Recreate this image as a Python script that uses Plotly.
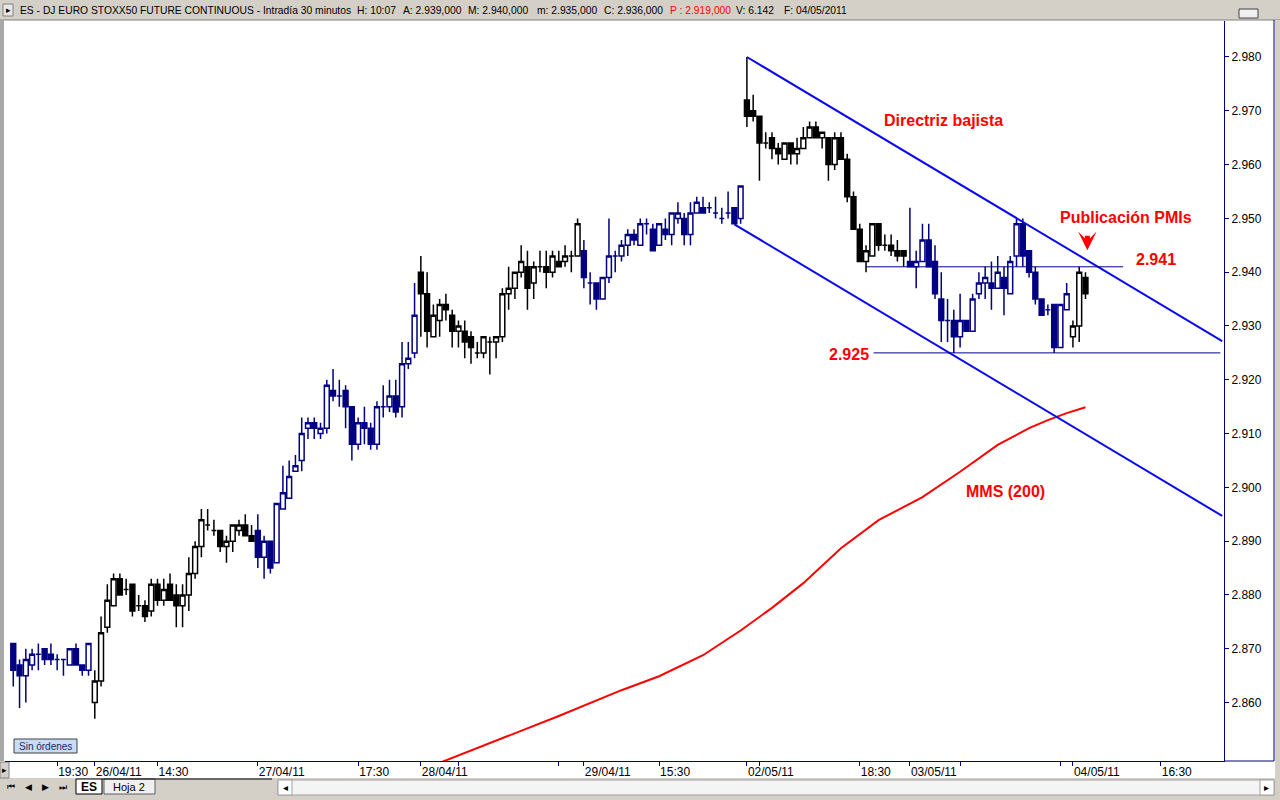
import plotly.graph_objects as go

# ---------------- data (index points, 30-min bars) ----------------
opens = [2871, 2867, 2865, 2867, 2869, 2870, 2869, 2868, 2868, 2867, 2870, 2867, 2866,
         2860, 2864, 2874, 2878, 2883, 2881, 2882, 2878, 2878, 2877, 2882, 2879, 2882, 2880, 2878, 2880,
         2884, 2889, 2893, 2892, 2892, 2889, 2890, 2892, 2893, 2891,
         2892, 2887, 2890, 2886, 2896, 2898, 2903, 2905, 2911, 2912, 2910, 2911, 2918, 2917, 2918, 2915,
         2908, 2912, 2911, 2908, 2915, 2915, 2917, 2915, 2923, 2925,
         2940, 2936, 2928, 2931, 2934, 2932, 2929, 2929, 2928, 2925, 2925, 2927, 2927, 2928, 2936, 2937,
         2940, 2941, 2938, 2941, 2941, 2940, 2942, 2942, 2943, 2943,
         2944, 2938, 2938, 2935, 2939, 2943, 2943, 2945, 2947, 2945, 2949, 2948, 2945, 2948, 2947, 2950,
         2950, 2947, 2951, 2952, 2952, 2951, 2950, 2951, 2952, 2950,
         2972, 2970, 2969, 2964, 2965, 2963, 2961, 2964, 2962, 2963, 2965, 2967, 2965, 2965, 2960, 2965,
         2961, 2954, 2948, 2942, 2943, 2949, 2945, 2945, 2944, 2944,
         2942, 2941, 2942, 2946, 2942, 2935, 2931, 2931, 2928, 2931, 2929, 2936, 2938, 2938, 2937, 2939,
         2936, 2943, 2949, 2944, 2940, 2935, 2933, 2934, 2926, 2933,
         2928, 2930, 2939]
highs = [2871, 2868, 2870, 2870, 2871, 2870, 2871, 2869, 2868, 2870, 2871, 2867, 2871,
         2866, 2876, 2882, 2884, 2884, 2883, 2882, 2880, 2879, 2883, 2883, 2883, 2884, 2882, 2882, 2887,
         2890, 2896, 2896, 2894, 2892, 2891, 2893, 2894, 2895, 2893,
         2895, 2891, 2890, 2897, 2904, 2905, 2906, 2913, 2913, 2913, 2912, 2920, 2922, 2920, 2919, 2915,
         2913, 2915, 2912, 2916, 2919, 2920, 2920, 2927, 2927, 2938,
         2943, 2940, 2934, 2935, 2936, 2933, 2931, 2931, 2929, 2927, 2928, 2928, 2928, 2937, 2941, 2940,
         2945, 2944, 2942, 2944, 2944, 2944, 2944, 2945, 2944, 2950,
         2946, 2940, 2938, 2939, 2950, 2944, 2946, 2948, 2948, 2950, 2950, 2949, 2949, 2950, 2951, 2953,
         2951, 2953, 2954, 2954, 2953, 2954, 2952, 2955, 2952, 2956,
         2980, 2973, 2969, 2966, 2966, 2964, 2964, 2964, 2965, 2967, 2968, 2968, 2966, 2965, 2966, 2966,
         2962, 2955, 2949, 2945, 2949, 2949, 2947, 2947, 2946, 2944,
         2952, 2944, 2949, 2949, 2945, 2940, 2935, 2933, 2936, 2931, 2936, 2940, 2941, 2942, 2943, 2941,
         2943, 2950, 2950, 2944, 2941, 2935, 2934, 2934, 2934, 2938,
         2931, 2941, 2940]
lows = [2863, 2859, 2860, 2866, 2866, 2867, 2867, 2866, 2865, 2867, 2867, 2865, 2865,
        2857, 2863, 2873, 2878, 2880, 2880, 2876, 2877, 2875, 2876, 2878, 2878, 2879, 2874, 2874, 2877,
        2883, 2887, 2892, 2891, 2888, 2886, 2888, 2891, 2891, 2890,
        2885, 2883, 2884, 2886, 2896, 2898, 2903, 2903, 2909, 2909, 2909, 2910, 2916, 2915, 2911, 2905,
        2907, 2908, 2907, 2907, 2913, 2914, 2913, 2913, 2922, 2924,
        2928, 2926, 2928, 2928, 2931, 2926, 2926, 2924, 2923, 2924, 2924, 2921, 2924, 2927, 2933, 2935,
        2939, 2933, 2935, 2940, 2937, 2939, 2941, 2941, 2940, 2943,
        2937, 2934, 2933, 2935, 2938, 2940, 2942, 2943, 2945, 2945, 2947, 2944, 2945, 2946, 2945, 2949,
        2945, 2945, 2951, 2951, 2951, 2950, 2949, 2950, 2949, 2949,
        2967, 2968, 2957, 2963, 2961, 2960, 2961, 2960, 2960, 2963, 2965, 2965, 2963, 2957, 2959, 2961,
        2953, 2948, 2942, 2940, 2943, 2944, 2944, 2943, 2942, 2941,
        2941, 2937, 2942, 2941, 2935, 2927, 2927, 2925, 2926, 2929, 2929, 2935, 2935, 2933, 2937, 2932,
        2936, 2941, 2941, 2939, 2934, 2932, 2932, 2925, 2926, 2933,
        2926, 2927, 2935]
closes = [2866, 2865, 2868, 2869, 2869, 2868, 2868, 2868, 2868, 2870, 2867, 2866, 2871,
          2864, 2873, 2879, 2883, 2880, 2881, 2877, 2878, 2876, 2882, 2879, 2881, 2879, 2878, 2880, 2884,
          2889, 2894, 2893, 2892, 2889, 2890, 2893, 2893, 2891, 2890,
          2887, 2890, 2885, 2897, 2899, 2902, 2904, 2910, 2912, 2911, 2911, 2919, 2917, 2917, 2915, 2908,
          2912, 2911, 2908, 2915, 2915, 2917, 2914, 2923, 2924, 2932,
          2936, 2929, 2932, 2934, 2933, 2929, 2930, 2927, 2926, 2925, 2928, 2927, 2928, 2936, 2937, 2940,
          2942, 2937, 2941, 2941, 2940, 2943, 2941, 2943, 2943, 2949,
          2939, 2938, 2935, 2939, 2943, 2943, 2945, 2947, 2946, 2949, 2949, 2944, 2949, 2947, 2951, 2951,
          2947, 2951, 2953, 2951, 2952, 2951, 2950, 2951, 2949, 2956,
          2969, 2969, 2964, 2964, 2963, 2962, 2964, 2962, 2963, 2965, 2967, 2965, 2966, 2960, 2965, 2961,
          2954, 2948, 2942, 2944, 2949, 2945, 2945, 2944, 2943, 2943,
          2941, 2942, 2946, 2941, 2936, 2931, 2931, 2928, 2931, 2929, 2935, 2938, 2939, 2937, 2940, 2937,
          2942, 2949, 2943, 2940, 2935, 2932, 2933, 2926, 2934, 2936,
          2930, 2940, 2936]

# first bar index of each trading session and its candle colour
session_starts = [0, 13, 39, 65, 91, 117, 143, 169]
session_colors = ["#000080", "#000000", "#000080", "#000000",
                  "#000080", "#000000", "#000080", "#000000"]

# 200-period moving average
ma_idx = [68, 78, 87, 97, 103, 110, 116, 121, 126, 132, 138, 145, 151, 157, 162, 165, 168, 171]
ma_val = [2848.8, 2853.4, 2857.5, 2862.3, 2864.9, 2868.8, 2873.4, 2877.6, 2882.2, 2888.7,
          2893.9, 2898.2, 2902.9, 2907.9, 2911.0, 2912.5, 2913.8, 2914.9]

# drawn lines
upper_trend_x = [117, 192.8]
upper_trend_y = [2980.0, 2927.2]
lower_trend_x = [115, 192.8]
lower_trend_y = [2948.9, 2894.7]
res_x = [136, 177]
res_y = [2941, 2941]
sup_x = [137.2, 192.5]
sup_y = [2925, 2925]

y_ticks = [2860, 2870, 2880, 2890, 2900, 2910, 2920, 2930, 2940, 2950, 2960, 2970, 2980]
x_tick_idx = [7, 13, 23, 39, 55, 65, 71, 87, 91, 103, 117, 119, 135, 143, 151, 167, 169, 183]
x_tick_text = ["19:30", "26/04/11", "14:30", "27/04/11", "17:30", "28/04/11", "", "",
               "29/04/11", "15:30", "02/05/11", "", "18:30", "03/05/11", "", "", "04/05/11", "16:30"]

# ---------------- figure ----------------
W, H = 1280, 800
L, R, T, B = 5, 56, 21, 39
PW, PH = W - L - R, H - T - B


def xp(px):
    return (px - L) / PW


def yp(py):
    return (H - B - py) / PH


fig = go.Figure()

n = len(opens)
bar_color = []
for i in range(n):
    k = max(j for j, s in enumerate(session_starts) if s <= i)
    bar_color.append(session_colors[k])

for col in ["#000080", "#000000"]:
    idx = [i for i in range(n) if bar_color[i] == col]
    fig.add_trace(go.Candlestick(
        x=idx,
        open=[opens[i] for i in idx], high=[highs[i] for i in idx],
        low=[lows[i] for i in idx], close=[closes[i] for i in idx],
        increasing=dict(line=dict(color=col, width=1.5), fillcolor="#ffffff"),
        decreasing=dict(line=dict(color=col, width=1.5), fillcolor=col),
        whiskerwidth=0, hoverinfo="skip", showlegend=False))

fig.add_trace(go.Scatter(x=ma_idx, y=ma_val, mode="lines",
                         line=dict(color="#ff0000", width=2), hoverinfo="skip", showlegend=False))
for xs, ys, c, w in [(upper_trend_x, upper_trend_y, "#0a0af0", 2),
                     (lower_trend_x, lower_trend_y, "#0a0af0", 2),
                     (res_x, res_y, "#00008b", 1),
                     (sup_x, sup_y, "#00008b", 1)]:
    fig.add_trace(go.Scatter(x=xs, y=ys, mode="lines", line=dict(color=c, width=w),
                             hoverinfo="skip", showlegend=False))

FONT = "Liberation Sans, Arial, sans-serif"
ax_font = dict(family=FONT, size=12, color="#000000")

fig.update_layout(
    width=W, height=H,
    margin=dict(l=L, r=R, t=T, b=B, pad=0),
    paper_bgcolor="#ffffff", plot_bgcolor="#ffffff",
    boxgap=0.12, boxgroupgap=0.12,
    showlegend=False,
    xaxis=dict(range=[-1.32, 193.09], showgrid=False, zeroline=False,
               showline=True, linecolor="#000080", linewidth=1,
               ticks="outside", ticklen=4, tickcolor="#000080",
               tickvals=x_tick_idx, ticktext=x_tick_text, tickangle=0,
               ticklabelposition="outside right", tickfont=ax_font,
               rangeslider=dict(visible=False), fixedrange=True),
    yaxis=dict(range=[2849.14, 2986.69], side="right", showgrid=False, zeroline=False,
               showline=True, linecolor="#000080", linewidth=1,
               ticks="outside", ticklen=4, tickcolor="#000080",
               tickvals=y_ticks, ticktext=[f"{v / 1000:.3f}" for v in y_ticks],
               tickfont=ax_font, fixedrange=True),
)

GRAY = "#d4d0c8"


def prect(x0, x1, y0, y1, fill, line_color=None, lw=1):
    return dict(type="rect", xref="paper", yref="paper", x0=xp(x0), x1=xp(x1), y0=yp(y1), y1=yp(y0),
                fillcolor=fill, line=dict(color=line_color or fill, width=lw if line_color else 0),
                layer="below")


def pline(x0, x1, y0, y1, color, lw=1):
    return dict(type="line", xref="paper", yref="paper", x0=xp(x0), x1=xp(x1), y0=yp(y0), y1=yp(y1),
                line=dict(color=color, width=lw), layer="below")


shapes = [
    prect(0, W, 0, 20, GRAY),
    pline(0, W, 20, 20, "#808080"),
    prect(0, 4, 20, 761, "#a8a8a8"),
    prect(1275, W, 20, 800, GRAY),
    pline(1274, 1274, 20, 761, "#000080"),
    pline(1224, 1274, 761, 761, "#000080"),
    prect(0, W, 778, 800, GRAY),
    prect(0, 9, 762, 778, GRAY, "#808080"),
    prect(3, 13, 4, 16, "#e8e8e8", "#808080"),
    prect(1239, 1258, 9, 18, "#f0f0f0", "#404040"),
    prect(14, 77, 739, 753, "#c8dcf4", "#404040"),
    prect(76, 102, 779, 794, "#ffffff", "#000000"),
    prect(104, 155, 779, 794, "#f0f0f0", "#606060"),
    pline(102, 272, 779, 779, "#000000"),
    prect(278, 1274, 780, 795, "#f4f4f4", "#a0a0a0"),
    prect(278, 292, 780, 795, "#ffffff", "#a0a0a0"),
    prect(1260, 1274, 780, 795, "#ffffff", "#a0a0a0"),
]
fig.update_layout(shapes=shapes)

RED = "#ff0000"
red_font = dict(family=FONT, size=16, color=RED)

ann = [
    dict(x=148.3, y=2968.2, text="<b>Directriz bajista</b>", font=red_font, showarrow=False),
    dict(x=177.4, y=2950.2, text="<b>Publicación PMIs</b>", font=red_font, showarrow=False),
    dict(x=182.2, y=2942.4, text="<b>2.941</b>", font=red_font, showarrow=False),
    dict(x=133.3, y=2924.7, text="<b>2.925</b>", font=red_font, showarrow=False),
    dict(x=158.3, y=2899.2, text="<b>MMS (200)</b>", font=red_font, showarrow=False),
    dict(x=171.3, y=2944.1, ax=0, ay=-16, text="", showarrow=True, arrowhead=3,
         arrowsize=0.62, arrowwidth=5, arrowcolor=RED, standoff=0),
]


def ptext(px, py, text, size=10, color="#000000", anchor="center", family=FONT):
    return dict(xref="paper", yref="paper", x=xp(px), y=yp(py), xanchor=anchor, yanchor="middle",
                text=text, showarrow=False, font=dict(family=family, size=size, color=color))


hdr = [
    (18, "ES - DJ EURO STOXX50 FUTURE CONTINUOUS - Intradía 30 minutos", "#000000"),
    (355, "H: 10:07", "#000000"),
    (401, "A: 2.939,000", "#000000"),
    (466, "M: 2.940,000", "#000000"),
    (535, "m: 2.935,000", "#000000"),
    (602, "C: 2.936,000", "#000000"),
    (668, "P : 2.919,000", RED),
    (734, "V: 6.142", "#000000"),
    (782, "F: 04/05/2011", "#000000"),
]
for px, t, c in hdr:
    ann.append(ptext(px, 10, t, size=10.3, color=c, anchor="left"))

ann += [
    ptext(8, 10, "▸", size=9),
    ptext(45.5, 746, "Sin órdenes", size=10, color="#1a2a6a"),
    ptext(4.5, 770, "▸", size=9),
    ptext(11, 787, "⏮", size=9),
    ptext(28, 787, "◀", size=9),
    ptext(45, 787, "▶", size=9),
    ptext(63, 787, "⏭", size=9),
    ptext(89, 787, "<b>ES</b>", size=12),
    ptext(129, 787, "Hoja 2", size=11),
    ptext(285, 787.5, "◂", size=10),
    ptext(1267, 787.5, "▸", size=10),
]
fig.update_layout(annotations=ann)

fig.write_html("out.html", config={"displayModeBar": False},
               post_script="document.body.style.margin='0';document.body.style.overflow='hidden';")
